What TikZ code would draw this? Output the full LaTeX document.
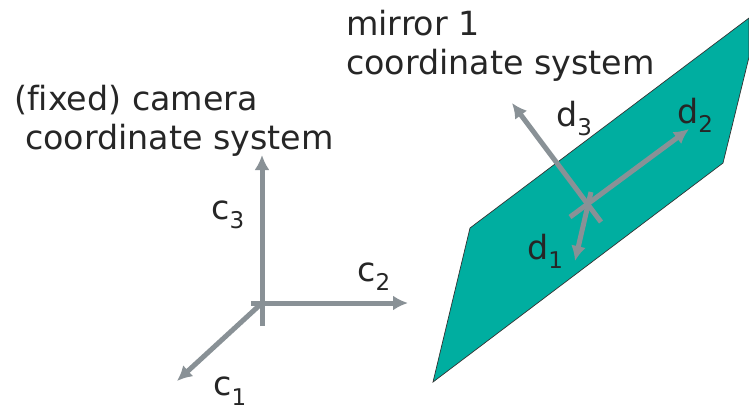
\documentclass[tikz,border=0pt]{standalone}
\usepackage{fontspec}
\setmainfont[Ligatures=NoCommon]{DejaVu Sans}
\usetikzlibrary{arrows.meta}
\definecolor{mirrorgreen}{RGB}{0,174,160}
\definecolor{axisgray}{RGB}{137,145,150}
\newcommand{\idx}[1]{\raisebox{-0.3em}{\fontsize{23}{23}\selectfont #1}}
\tikzset{
  axis/.style={draw=axisgray,line width=5pt,-{Latex[length=15pt,width=15pt]}},
  lbl/.style={inner sep=0pt,anchor=base west,text=black!85,font=\fontsize{33.3}{40}\selectfont},
}
\begin{document}
\begin{tikzpicture}[x=1pt,y=-1pt]
  \useasboundingbox (0,0) rectangle (749,408);
  % mirror plane
  \fill[mirrorgreen,draw=black!80,line width=0.7pt] (470,228) -- (749,18) -- (749,57) -- (723,163) -- (433,382) -- cycle;
  % camera frame
  \coordinate (c0) at (262,303);
  \coordinate (c1) at (177,381);
  \coordinate (c2) at (408,303);
  \coordinate (c3) at (262,155);
  \coordinate (c3s) at (262,326);
  \coordinate (c2s) at (251,303);
  \draw[axis] (c0) -- (c1);
  \draw[axis] (c2s) -- (c2);
  \draw[axis] (c3s) -- (c3);
  % mirror frame
  \coordinate (d1) at (575,261);
  \coordinate (d2) at (689,129);
  \coordinate (d3) at (512,103);
  \coordinate (d1s) at (591,192);
  \coordinate (d2s) at (570,217);
  \coordinate (d3s) at (601,222);
  \draw[axis] (d1s) -- (d1);
  \draw[axis] (d2s) -- (d2);
  \draw[axis] (d3s) -- (d3);
  % labels
  \node[lbl] (cam1) at (14,110) {(fixed) camera};
  \node[lbl] (cam2) at (25,149) {coordinate system};
  \node[lbl] (mir1) at (346,35) {mirror 1};
  \node[lbl] (mir2) at (346,74) {coordinate system};
  \node[lbl] (lc3) at (211,219) {c\idx{3}};
  \node[lbl] (lc2) at (357,281) {c\idx{2}};
  \node[lbl] (lc1) at (213,395) {c\idx{1}};
  \node[lbl] (ld3) at (556,126) {d\idx{3}};
  \node[lbl] (ld2) at (677,123) {d\idx{2}};
  \node[lbl] (ld1) at (527,259) {d\idx{1}};
\end{tikzpicture}
\end{document}
